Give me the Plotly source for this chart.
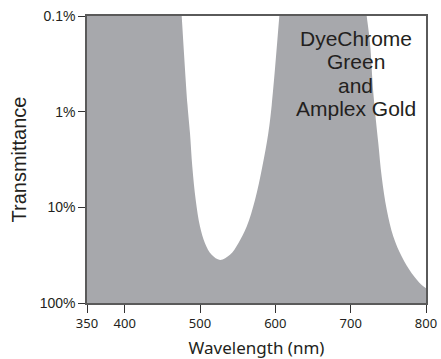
import plotly.graph_objects as go

# Wavelength (nm) and transmittance (fraction); values below 0.1% are clipped off the top
wavelength = [350, 468, 475.7, 483.4, 486.7, 489.8, 494.3, 500.0, 506.6, 515.5, 526.6,
              539.8, 550.9, 562.0, 573.0, 582.7, 590.7, 595.2, 605.3, 615, 706,
              721.3, 725.7, 730.1, 736.7, 741.2, 747.9, 756.6, 767.8, 781.0, 794.3, 800]
transmittance = [0.0001, 0.0001, 0.001, 0.00851, 0.0167, 0.0376, 0.0837, 0.159, 0.237,
                 0.314, 0.355, 0.314, 0.237, 0.159, 0.0837, 0.0376, 0.0167, 0.00851,
                 0.001, 0.0001, 0.0001, 0.001, 0.00193, 0.00642, 0.0214, 0.0478, 0.106,
                 0.202, 0.327, 0.488, 0.647, 0.70]

ytick_vals = [0.001, 0.01, 0.1, 1]
ytick_text = ["0.1%", "1%", "10%", "100%"]
xtick_vals = [350, 400, 500, 600, 700, 800]
label_lines = ["DyeChrome", "Green", "and", "Amplex Gold"]

fill_color = "rgb(167,168,172)"

fig = go.Figure()
fig.add_trace(go.Scatter(x=[350, 800], y=[3, 3], mode="lines",
                         line=dict(width=0, color=fill_color), hoverinfo="skip",
                         showlegend=False))
fig.add_trace(go.Scatter(x=wavelength, y=transmittance, mode="lines",
                         line=dict(width=0, color=fill_color, shape="spline", smoothing=1.0),
                         fill="tonexty", fillcolor=fill_color, showlegend=False))

line_y = [0.922, 0.842, 0.758, 0.678]
for txt, yy in zip(label_lines, line_y):
    fig.add_annotation(x=707, y=yy, xref="x", yref="paper", text=txt, showarrow=False,
                       xanchor="center", yanchor="middle",
                       font=dict(family="Liberation Sans, Arial", size=21, color="#231f20"))

fig.update_layout(
    width=441, height=359,
    margin=dict(l=87, r=15, t=16, b=56),
    paper_bgcolor="white", plot_bgcolor="white",
    xaxis=dict(range=[350, 800], tickvals=xtick_vals, ticks="outside", ticklen=8,
               tickcolor="#333", showline=True, linecolor="#5a5a5a", linewidth=1.5,
               mirror=True, showgrid=False, zeroline=False, automargin=False,
               tickfont=dict(family="Noto Sans", size=13, color="#231f20"),
               title=dict(text="Wavelength (nm)", standoff=13,
                          font=dict(family="Noto Sans", size=17, color="#231f20"))),
    yaxis=dict(type="log", range=[0, -3], tickvals=ytick_vals, ticktext=ytick_text,
               ticks="outside", ticklen=7, tickcolor="#333", showline=True,
               linecolor="#5a5a5a", linewidth=1.5, mirror=True, showgrid=False,
               zeroline=False, automargin=False,
               tickfont=dict(family="Liberation Sans, Arial", size=14, color="#231f20"),
               title=dict(text="Transmittance", standoff=8,
                          font=dict(family="Liberation Sans, Arial", size=20, color="#231f20"))),
)

fig.write_html("out.html")
